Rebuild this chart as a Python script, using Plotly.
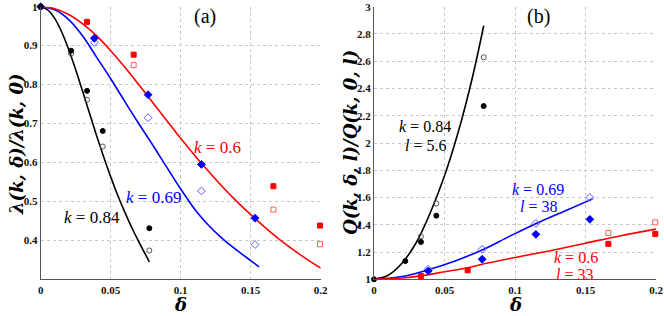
import plotly.graph_objects as go

# ---------------- Panel (a) data ----------------
a_black_x = [0, 0.0217, 0.0331, 0.0443, 0.0776]
a_black_filled = [1.0, 0.887, 0.784, 0.681, 0.431]
a_black_open_x = [0.0217, 0.0331, 0.0443, 0.0776]
a_black_open = [0.879, 0.761, 0.641, 0.374]

a_blue_x = [0, 0.0383, 0.0767, 0.1148, 0.1531]
a_blue_filled = [1.0, 0.919, 0.774, 0.595, 0.457]
a_blue_open_x = [0.0383, 0.0767, 0.1148, 0.1531]
a_blue_open = [0.908, 0.715, 0.527, 0.389]

a_red_x = [0.0331, 0.0664, 0.1662, 0.1995]
a_red_filled = [0.961, 0.877, 0.539, 0.438]
a_red_open_x = [0.0664, 0.1662, 0.1995]
a_red_open = [0.850, 0.479, 0.390]

# curves
a_curve_black_x = [0, 0.005, 0.01, 0.015, 0.02, 0.025, 0.03, 0.035, 0.04, 0.045, 0.05, 0.055, 0.06, 0.065, 0.07, 0.0776]
a_curve_black_y = [1.0, 0.992, 0.97, 0.935, 0.89, 0.838, 0.782, 0.725, 0.668, 0.614, 0.563, 0.516, 0.473, 0.433, 0.397, 0.345]
a_curve_blue_x = [0, 0.01, 0.02, 0.03, 0.04, 0.05, 0.06, 0.07, 0.08, 0.09, 0.10, 0.11, 0.12, 0.13, 0.14, 0.15, 0.156]
a_curve_blue_y = [1.0, 0.992, 0.967, 0.925, 0.87, 0.815, 0.757, 0.70, 0.645, 0.588, 0.532, 0.48, 0.438, 0.404, 0.375, 0.348, 0.332]
a_curve_red_x = [0, 0.01, 0.02, 0.03, 0.04, 0.05, 0.06, 0.07, 0.08, 0.09, 0.10, 0.11, 0.12, 0.13, 0.14, 0.15, 0.16, 0.17, 0.18, 0.19, 0.2]
a_curve_red_y = [1.0, 0.995, 0.98, 0.956, 0.925, 0.887, 0.845, 0.80, 0.754, 0.708, 0.662, 0.618, 0.577, 0.537, 0.50, 0.466, 0.434, 0.404, 0.377, 0.352, 0.329]

# ---------------- Panel (b) data ----------------
b_black_x = [0, 0.0222, 0.0333, 0.0442, 0.0778]
b_black_filled = [1.0, 1.134, 1.274, 1.467, 2.271]
b_black_open_x = [0.0333, 0.0442, 0.0778]
b_black_open = [1.315, 1.556, 2.629]

b_blue_x = [0.0385, 0.0767, 0.1148, 0.1531]
b_blue_filled = [1.061, 1.147, 1.33, 1.44]
b_blue_open = [1.075, 1.22, 1.41, 1.60]

b_red_x = [0.0333, 0.0664, 0.1662, 0.1995]
b_red_filled = [1.024, 1.066, 1.26, 1.333]
b_red_open_x = [0.1662, 0.1995]
b_red_open = [1.34, 1.418]

b_curve_black_x = [0, 0.01, 0.02, 0.03, 0.04, 0.05, 0.06, 0.07, 0.0778]
b_curve_black_y = [1.0, 1.03, 1.12, 1.27, 1.49, 1.76, 2.09, 2.49, 2.86]
b_curve_blue_x = [0, 0.02, 0.0385, 0.0575, 0.0767, 0.096, 0.115, 0.135, 0.155]
b_curve_blue_y = [1.0, 1.02, 1.07, 1.135, 1.215, 1.315, 1.41, 1.50, 1.59]
b_curve_red_x = [0, 0.02, 0.0333, 0.05, 0.0664, 0.0752, 0.1, 0.125, 0.15, 0.175, 0.2]
b_curve_red_y = [1.0, 1.01, 1.025, 1.055, 1.085, 1.107, 1.16, 1.21, 1.265, 1.32, 1.368]

x_ticks = [0, 0.05, 0.1, 0.15, 0.2]
x_tick_text = ["0", "0.05", "0.1", "0.15", "0.2"]
a_y_ticks = [0.4, 0.5, 0.6, 0.7, 0.8, 0.9, 1.0]
a_y_tick_text = ["0.4", "0.5", "0.6", "0.7", "0.8", "0.9", "1"]
b_y_ticks = [1, 1.2, 1.4, 1.6, 1.8, 2, 2.2, 2.4, 2.6, 2.8, 3]
b_y_tick_text = ["1", "1.2", "1.4", "1.6", "1.8", "2", "2.2", "2.4", "2.6", "2.8", "3"]

BLACK = "#000000"
BLUE = "#0000ff"
RED = "#ff0000"
BLACK_O = "#555555"
BLUE_O = "#5a5aff"
RED_O = "#ff5a5a"

SERIF = "Liberation Serif, Times New Roman, serif"
WIDE_SERIF = "DejaVu Serif, serif"

W, H = 664, 316


def px(sx):
    return min(1.0, max(0.0, sx / W))


def py(sy):
    return min(1.0, max(0.0, 1 - sy / H))


fig = go.Figure()


def line(x, y, color, xa, ya):
    fig.add_trace(go.Scatter(x=x, y=y, mode="lines", line=dict(color=color, width=1.6, shape="spline"),
                             xaxis=xa, yaxis=ya, showlegend=False, hoverinfo="skip"))


def pts(x, y, color, symbol, xa, ya, size=5, lw=1):
    fig.add_trace(go.Scatter(x=x, y=y, mode="markers",
                             marker=dict(color=color, symbol=symbol, size=size, line=dict(color=color, width=lw)),
                             xaxis=xa, yaxis=ya, showlegend=False, cliponaxis=False))


# panel a
line(a_curve_black_x, a_curve_black_y, BLACK, "x", "y")
line(a_curve_blue_x, a_curve_blue_y, BLUE, "x", "y")
line(a_curve_red_x, a_curve_red_y, RED, "x", "y")
pts(a_black_open_x, a_black_open, BLACK_O, "circle-open", "x", "y")
pts(a_blue_open_x, a_blue_open, BLUE_O, "diamond-open", "x", "y", size=6)
pts(a_red_open_x, a_red_open, RED_O, "square-open", "x", "y", size=5)
pts(a_red_x, a_red_filled, RED, "square", "x", "y", size=5)
pts(a_blue_x, a_blue_filled, BLUE, "diamond", "x", "y", size=6)
pts(a_black_x, a_black_filled, BLACK, "circle", "x", "y")

# panel b
line(b_curve_black_x, b_curve_black_y, BLACK, "x2", "y2")
line(b_curve_blue_x, b_curve_blue_y, BLUE, "x2", "y2")
line(b_curve_red_x, b_curve_red_y, RED, "x2", "y2")
pts(b_black_open_x, b_black_open, BLACK_O, "circle-open", "x2", "y2")
pts(b_blue_x, b_blue_open, BLUE_O, "diamond-open", "x2", "y2", size=6)
pts(b_red_open_x, b_red_open, RED_O, "square-open", "x2", "y2", size=5)
pts(b_red_x, b_red_filled, RED, "square", "x2", "y2", size=5)
pts(b_blue_x, b_blue_filled, BLUE, "diamond", "x2", "y2", size=6)
pts(b_black_x, b_black_filled, BLACK, "circle", "x2", "y2")

tickfont = dict(family=SERIF, size=11, color="#111111", weight="bold")
grid = dict(showgrid=True, gridcolor="#c8c8c8", griddash="dot", gridwidth=1, zeroline=False,
            showline=True, linecolor="#555555", linewidth=1, ticks="", tickfont=tickfont,
            automargin=False, ticklabeloverflow="allow")

yd = [py(279.3), py(6.7)]
fig.update_layout(
    width=W, height=H,
    margin=dict(l=0, r=0, t=0, b=0, autoexpand=False),
    paper_bgcolor="white", plot_bgcolor="white",
    xaxis=dict(domain=[px(40.7), px(320.7)], range=[0, 0.2], tickvals=x_ticks, ticktext=x_tick_text, anchor="y", **grid),
    yaxis=dict(domain=yd, range=[0.3, 1.0], tickvals=a_y_ticks, ticktext=a_y_tick_text, anchor="x", **grid),
    xaxis2=dict(domain=[px(374), px(656)], range=[0, 0.2], tickvals=x_ticks, ticktext=x_tick_text, anchor="y2", **grid),
    yaxis2=dict(domain=yd, range=[1.0, 3.0], tickvals=b_y_ticks, ticktext=b_y_tick_text, anchor="x2", **grid),
)


def ann(x, y, text, color="#000000", size=16, angle=0, family=SERIF):
    fig.add_annotation(x=px(x), y=py(y), xref="paper", yref="paper", text=text, showarrow=False,
                       font=dict(family=family, size=size, color=color), textangle=angle,
                       xanchor="center", yanchor="middle", borderpad=0)


ann(205, 17, "(a)", size=20)
ann(538, 17, "(b)", size=20)
ann(218, 147, "<i>k</i> = 0.6", RED, size=17)
ann(153, 197, "<i>k</i> = 0.69", BLUE, size=17)
ann(92, 217, "<i>k</i> = 0.84", BLACK, size=17)
ann(425, 127, "<i>k</i> = 0.84", BLACK)
ann(425, 145, "<i>l</i> = 5.6", BLACK)
ann(538, 189, "<i>k</i> = 0.69", BLUE)
ann(538, 206, "<i>l</i> = 38", BLUE)
ann(576, 257, "<i>k</i> = 0.6", RED)
ann(574, 274, "<i>l</i> = 33", RED)
ann(16, 145, "<b><i>λ(k, δ)/λ(k, 0)</i></b>", size=18, angle=-90, family=WIDE_SERIF)
ann(350, 143, "<b><i>Q(k, δ, l)/Q(k, 0, l)</i></b>", size=18, angle=-90, family=WIDE_SERIF)
ann(180, 304, "<b><i>δ</i></b>", size=18, family=WIDE_SERIF)
ann(515, 304, "<b><i>δ</i></b>", size=18, family=WIDE_SERIF)

# remove the page's default 8px body margin so the figure sits at the window's top-left
fig.write_html("out.html", config={"displayModeBar": False},
               post_script="document.body.style.margin='0';")
